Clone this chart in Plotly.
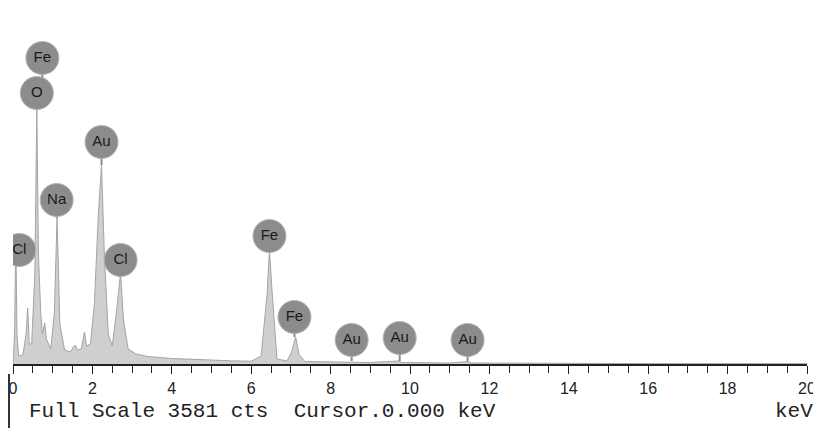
import plotly.graph_objects as go

# ---- spectrum (energy keV, counts) ----
energy = [0.00, 0.04, 0.07, 0.10, 0.14, 0.25, 0.33, 0.37, 0.41, 0.47, 0.55, 0.60, 0.64, 0.70,
          0.74, 0.80, 0.84, 0.95, 1.04, 1.11, 1.18, 1.30, 1.45, 1.52, 1.57, 1.62, 1.72, 1.80,
          1.85, 1.95, 2.05, 2.15, 2.23, 2.30, 2.40, 2.50, 2.60, 2.71, 2.78, 2.90, 3.10, 3.40,
          4.0, 4.5, 5.0, 5.5, 6.0, 6.25, 6.40, 6.46, 6.53, 6.65, 6.90, 7.02, 7.12, 7.20, 7.35,
          8.0, 9.0, 9.7, 9.8, 11.0, 11.45, 11.55, 13.0, 16.0, 20.0]
counts = [0, 300, 1290, 300, 80, 90, 300, 560, 200, 200, 900, 2560, 1100, 500,
          300, 410, 250, 150, 500, 1460, 400, 140, 120, 170, 190, 140, 150, 320,
          180, 200, 600, 1500, 1990, 1100, 300, 180, 500, 910, 450, 150, 100, 75,
          55, 45, 38, 32, 28, 80, 700, 1140, 700, 50, 30, 120, 270, 100, 25,
          20, 15, 30, 15, 10, 25, 10, 6, 4, 3]

# ---- element labels ----
label_names = ["Fe", "O", "Au", "Na", "Cl", "Cl", "Fe", "Fe", "Au", "Au", "Au"]
label_kev = [0.74, 0.60, 2.23, 1.10, 0.16, 2.71, 6.46, 7.09, 8.53, 9.74, 11.45]
label_cts = [3060, 2710, 2220, 1640, 1140, 1040, 1280, 470, 240, 260, 240]
stem_bottom = [2800, 2560, 1990, 1460, 1140, 910, 1140, 270, 30, 30, 25]

tick_vals = [0, 2, 4, 6, 8, 10, 12, 14, 16, 18, 20]
full_scale = 3581

fig = go.Figure()

fig.add_trace(go.Scatter(
    x=energy, y=counts, mode="lines", fill="tozeroy",
    fillcolor="#cfcfcf", line=dict(color="#a4a4a4", width=1),
    hoverinfo="skip", showlegend=False))

# stems
sx, sy = [], []
for k, top, bot in zip(label_kev, label_cts, stem_bottom):
    sx += [k, k, None]
    sy += [top, bot, None]
fig.add_trace(go.Scatter(x=sx, y=sy, mode="lines",
                         line=dict(color="#8a8a8a", width=2),
                         hoverinfo="skip", showlegend=False))

# label circles
fig.add_trace(go.Scatter(
    x=label_kev, y=label_cts, mode="markers+text", text=label_names,
    textposition="middle center",
    textfont=dict(family="Arial, Liberation Sans", size=15, color="#1a1a1a"),
    marker=dict(size=33, color="#8c8c8c", line=dict(color="#b4b4b4", width=1)),
    hoverinfo="skip", showlegend=False))

fig.update_layout(
    width=813, height=428,
    margin=dict(l=13, r=6, t=4, b=64, autoexpand=False),
    paper_bgcolor="white", plot_bgcolor="white",
    xaxis=dict(range=[0, 20], tickvals=tick_vals, ticks="outside", ticklen=8,
               tickcolor="#222", tickwidth=1, showline=True, linecolor="#222",
               linewidth=2, showgrid=False, zeroline=False, automargin=False,
               ticklabeloverflow="allow", ticklabelstandoff=1,
               tickfont=dict(family="Arial, Liberation Sans", size=16, color="#222"),
               minor=dict(dtick=0.5, ticks="outside", ticklen=7, tickcolor="#222")),
    yaxis=dict(range=[0, 3600], visible=False, showgrid=False, zeroline=False),
)

fig.add_annotation(xref="paper", yref="paper", x=(27 - 13) / 794, y=(428 - 411 - 64) / 360,
                   text=f"Full Scale {full_scale} cts  Cursor.0.000 keV", showarrow=False,
                   xanchor="left", yanchor="middle",
                   font=dict(family="Liberation Mono", size=21, color="#222"))
fig.add_annotation(xref="paper", yref="paper", x=(773 - 13) / 794, y=(428 - 411 - 64) / 360,
                   text="keV", showarrow=False, xanchor="left", yanchor="middle",
                   font=dict(family="Liberation Mono", size=21, color="#222"))

fig.add_shape(type="line", xref="paper", yref="paper",
              x0=(9 - 13) / 794, x1=(9 - 13) / 794,
              y0=(428 - 374 - 64) / 360, y1=-64 / 360,
              line=dict(color="#333", width=2))

fig.write_html("out.html")
